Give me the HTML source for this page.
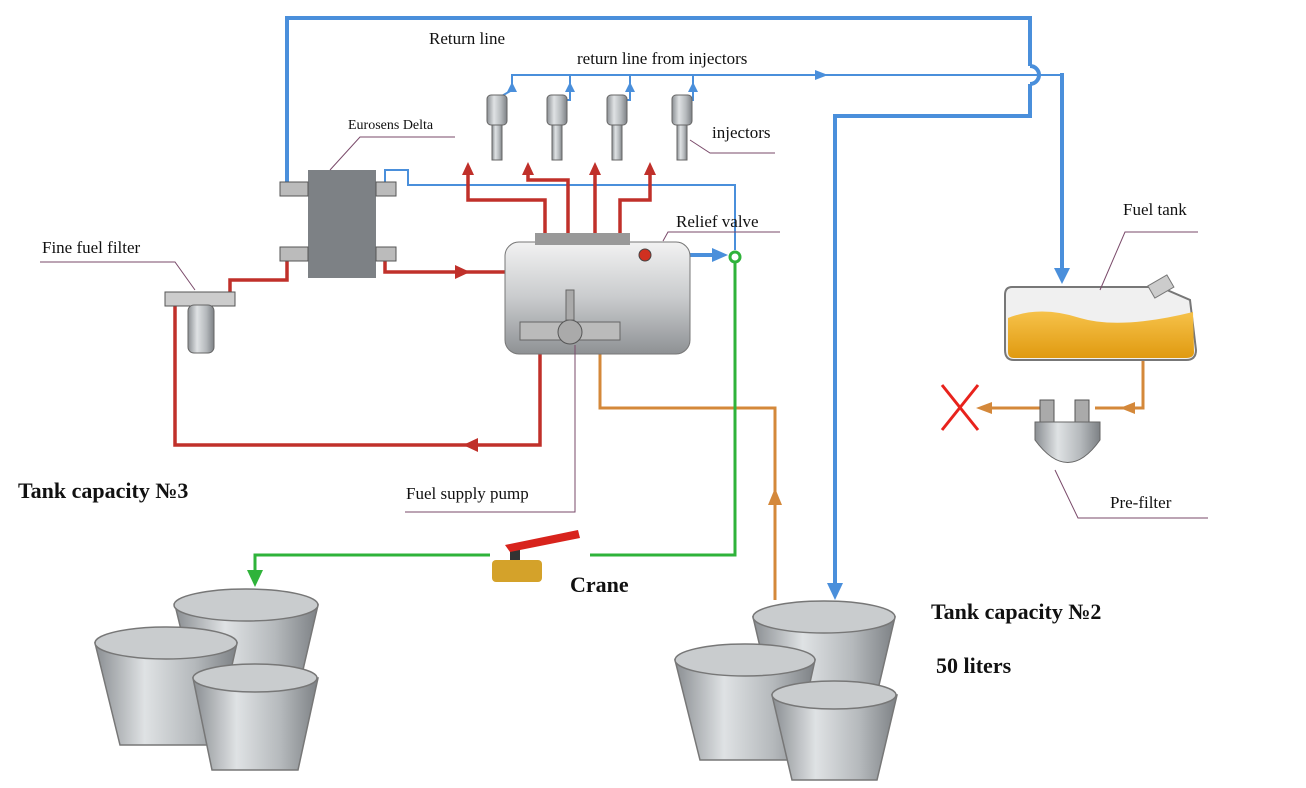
<!DOCTYPE html>
<html><head><meta charset="utf-8"><style>
html,body{margin:0;padding:0;background:#fff;}
svg{display:block;}
text{font-family:"Liberation Serif",serif;}
</style></head><body>
<svg width="1306" height="788" viewBox="0 0 1306 788" xmlns="http://www.w3.org/2000/svg">
<defs>
<linearGradient id="metal" x1="0" x2="1" y1="0" y2="0">
<stop offset="0" stop-color="#8a8e92"/><stop offset="0.35" stop-color="#dfe2e4"/><stop offset="0.7" stop-color="#b5b9bc"/><stop offset="1" stop-color="#7d8185"/></linearGradient>
<linearGradient id="pump" x1="0" x2="0" y1="0" y2="1">
<stop offset="0" stop-color="#f2f2f2"/><stop offset="0.5" stop-color="#c9cbcd"/><stop offset="1" stop-color="#8e9194"/></linearGradient>
<linearGradient id="fuel" x1="0" x2="0" y1="0" y2="1">
<stop offset="0" stop-color="#f6c24a"/><stop offset="1" stop-color="#e09a10"/></linearGradient>
</defs>

<!-- Blue return lines -->
<g fill="none" stroke="#4a8fdb" stroke-width="4">
<polyline points="287,185 287,18 1030,18 1030,66"/>
<path d="M1030,66 A9,9 0 0 1 1030,84"/>
<polyline points="1030,84 1030,116 835,116 835,590"/>
<polyline points="1062,73 1062,270"/>
<polyline points="655,255 715,255"/>
</g>
<polygon points="1054,268 1070,268 1062,284" fill="#4a8fdb"/>
<polygon points="827,583 843,583 835,600" fill="#4a8fdb"/>
<polygon points="712,248 728,255 712,262" fill="#4a8fdb"/>
<g fill="none" stroke="#4a8fdb" stroke-width="2">
<polyline points="512,90 512,75 1062,75"/>
<polyline points="385,185 385,170 408,170 408,185 735,185 735,250"/>
<line x1="495" y1="100" x2="512" y2="90"/>
<polyline points="555,100 570,100 570,75"/>
<polyline points="615,100 630,100 630,75"/>
<polyline points="680,100 693,100 693,75"/>
</g>
<polygon points="815,70 828,75 815,80" fill="#4a8fdb"/>
<polygon points="507,92 512,82 517,92" fill="#4a8fdb"/>
<polygon points="565,92 570,82 575,92" fill="#4a8fdb"/>
<polygon points="625,92 630,82 635,92" fill="#4a8fdb"/>
<polygon points="688,92 693,82 698,92" fill="#4a8fdb"/>

<!-- Red lines -->
<g fill="none" stroke="#c0302a" stroke-width="3.5">
<polyline points="385,255 385,272 505,272"/>
<polyline points="287,255 287,280 230,280 230,300"/>
<polyline points="175,300 175,445 540,445 540,340"/>
<polyline points="545,235 545,200 468,200 468,170"/>
<polyline points="568,235 568,180 528,180 528,170"/>
<polyline points="595,235 595,170"/>
<polyline points="620,235 620,200 650,200 650,170"/>
</g>
<polygon points="455,265 470,272 455,279" fill="#c0302a"/>
<polygon points="478,438 463,445 478,452" fill="#c0302a"/>
<polygon points="462,175 468,162 474,175" fill="#c0302a"/>
<polygon points="522,175 528,162 534,175" fill="#c0302a"/>
<polygon points="589,175 595,162 601,175" fill="#c0302a"/>
<polygon points="644,175 650,162 656,175" fill="#c0302a"/>

<!-- Orange lines -->
<g fill="none" stroke="#d4883a" stroke-width="3">
<polyline points="600,340 600,408 775,408 775,600"/>
<polyline points="1143,360 1143,408 1095,408"/>
<polyline points="1040,408 980,408"/>
</g>
<polygon points="768,505 775,488 782,505" fill="#d4883a"/>
<polygon points="1135,402 1120,408 1135,414" fill="#d4883a"/>
<polygon points="992,402 976,408 992,414" fill="#d4883a"/>
<g stroke="#e8221c" stroke-width="3"><line x1="942" y1="385" x2="978" y2="430"/><line x1="978" y1="385" x2="942" y2="430"/></g>

<!-- Green -->
<g fill="none" stroke="#2fb33a" stroke-width="3">
<polyline points="735,262 735,555 590,555"/>
<polyline points="490,555 255,555 255,575"/>
</g>
<circle cx="735" cy="257" r="5" fill="#fff" stroke="#2fb33a" stroke-width="3"/>
<polygon points="247,570 263,570 255,587" fill="#2fb33a"/>

<!-- Eurosens -->
<rect x="308" y="170" width="68" height="108" fill="#7d8185"/>
<rect x="280" y="182" width="28" height="14" fill="#bbb" stroke="#555"/>
<rect x="280" y="247" width="28" height="14" fill="#bbb" stroke="#555"/>
<rect x="376" y="182" width="20" height="14" fill="#bbb" stroke="#555"/>
<rect x="376" y="247" width="20" height="14" fill="#bbb" stroke="#555"/>

<!-- Fine filter -->
<rect x="165" y="292" width="70" height="14" fill="#ccc" stroke="#555"/>
<rect x="188" y="305" width="26" height="48" rx="6" fill="url(#metal)" stroke="#666"/>

<!-- Pump -->
<rect x="505" y="242" width="185" height="112" rx="14" fill="url(#pump)" stroke="#777"/>
<rect x="535" y="233" width="95" height="12" fill="#999"/>
<rect x="520" y="322" width="100" height="18" fill="#bbb" stroke="#666"/>
<circle cx="570" cy="332" r="12" fill="#aaa" stroke="#555"/>
<rect x="566" y="290" width="8" height="30" fill="#aaa" stroke="#666"/>
<circle cx="645" cy="255" r="6" fill="#d03020" stroke="#444"/>

<!-- Injectors -->
<g fill="url(#metal)" stroke="#666">
<rect x="487" y="95" width="20" height="30" rx="4"/><rect x="492" y="125" width="10" height="35"/>
<rect x="547" y="95" width="20" height="30" rx="4"/><rect x="552" y="125" width="10" height="35"/>
<rect x="607" y="95" width="20" height="30" rx="4"/><rect x="612" y="125" width="10" height="35"/>
<rect x="672" y="95" width="20" height="30" rx="4"/><rect x="677" y="125" width="10" height="35"/>
</g>

<!-- Fuel tank -->
<path d="M1012,287 L1160,287 L1190,300 L1196,350 Q1196,360 1186,360 L1014,360 Q1005,360 1005,350 L1005,295 Q1005,287 1012,287Z" fill="#f0f0f0" stroke="#777" stroke-width="2"/>
<path d="M1008,318 Q1040,305 1080,318 Q1120,330 1193,312 L1194,352 Q1194,358 1186,358 L1014,358 Q1008,358 1008,352Z" fill="url(#fuel)"/>
<rect x="1150" y="280" width="22" height="14" fill="#ccc" stroke="#777" transform="rotate(-30 1160 287)"/>
<!-- pre-filter -->
<rect x="1040" y="400" width="14" height="22" fill="#aaa" stroke="#555"/>
<rect x="1075" y="400" width="14" height="22" fill="#aaa" stroke="#555"/>
<path d="M1035,422 L1100,422 L1100,440 Q1068,485 1035,440Z" fill="url(#metal)" stroke="#666"/>

<!-- Valve -->
<rect x="492" y="560" width="50" height="22" rx="4" fill="#d4a22a"/>
<rect x="510" y="545" width="10" height="15" fill="#333"/>
<path d="M505,545 L578,530 L580,538 L510,552Z" fill="#d8231c"/>

<!-- Buckets -->
<g stroke="#777" stroke-width="1.5">
<path d="M175,605 L318,605 L296,700 L198,700Z" fill="url(#metal)"/>
<ellipse cx="246" cy="605" rx="72" ry="16" fill="#c9ccce"/>
<path d="M95,643 L237,643 L214,745 L120,745Z" fill="url(#metal)"/>
<ellipse cx="166" cy="643" rx="71" ry="16" fill="#c9ccce"/>
<path d="M193,678 L318,678 L298,770 L212,770Z" fill="url(#metal)"/>
<ellipse cx="255" cy="678" rx="62" ry="14" fill="#c9ccce"/>

<path d="M753,617 L895,617 L872,715 L776,715Z" fill="url(#metal)"/>
<ellipse cx="824" cy="617" rx="71" ry="16" fill="#c9ccce"/>
<path d="M675,660 L815,660 L793,760 L700,760Z" fill="url(#metal)"/>
<ellipse cx="745" cy="660" rx="70" ry="16" fill="#c9ccce"/>
<path d="M772,695 L897,695 L877,780 L792,780Z" fill="url(#metal)"/>
<ellipse cx="834" cy="695" rx="62" ry="14" fill="#c9ccce"/>
</g>

<!-- Leader lines -->
<g stroke="#7a4a6a" stroke-width="1" fill="none">
<polyline points="455,137 360,137 330,170"/>
<polyline points="40,262 175,262 195,290"/>
<polyline points="690,140 710,153 775,153"/>
<polyline points="1100,290 1125,232 1198,232"/>
<polyline points="1055,470 1078,518 1208,518"/>
<polyline points="575,345 575,512 405,512"/>
<polyline points="663,241 668,232 780,232"/>
</g>

<!-- Labels -->
<g font-size="17" fill="#111">
<text x="429" y="44">Return line</text>
<text x="577" y="64">return line from injectors</text>
<text x="712" y="138">injectors</text>
<text x="676" y="227">Relief valve</text>
<text x="1123" y="215">Fuel tank</text>
<text x="1110" y="508">Pre-filter</text>
<text x="406" y="499">Fuel supply pump</text>
<text x="42" y="253">Fine fuel filter</text>
</g>
<text x="348" y="129" font-size="14" fill="#111">Eurosens Delta</text>
<g font-size="22" font-weight="bold" fill="#111">
<text x="18" y="498">Tank capacity №3</text>
<text x="570" y="592">Crane</text>
<text x="931" y="619">Tank capacity №2</text>
<text x="936" y="673">50 liters</text>
</g>
</svg>
</body></html>
